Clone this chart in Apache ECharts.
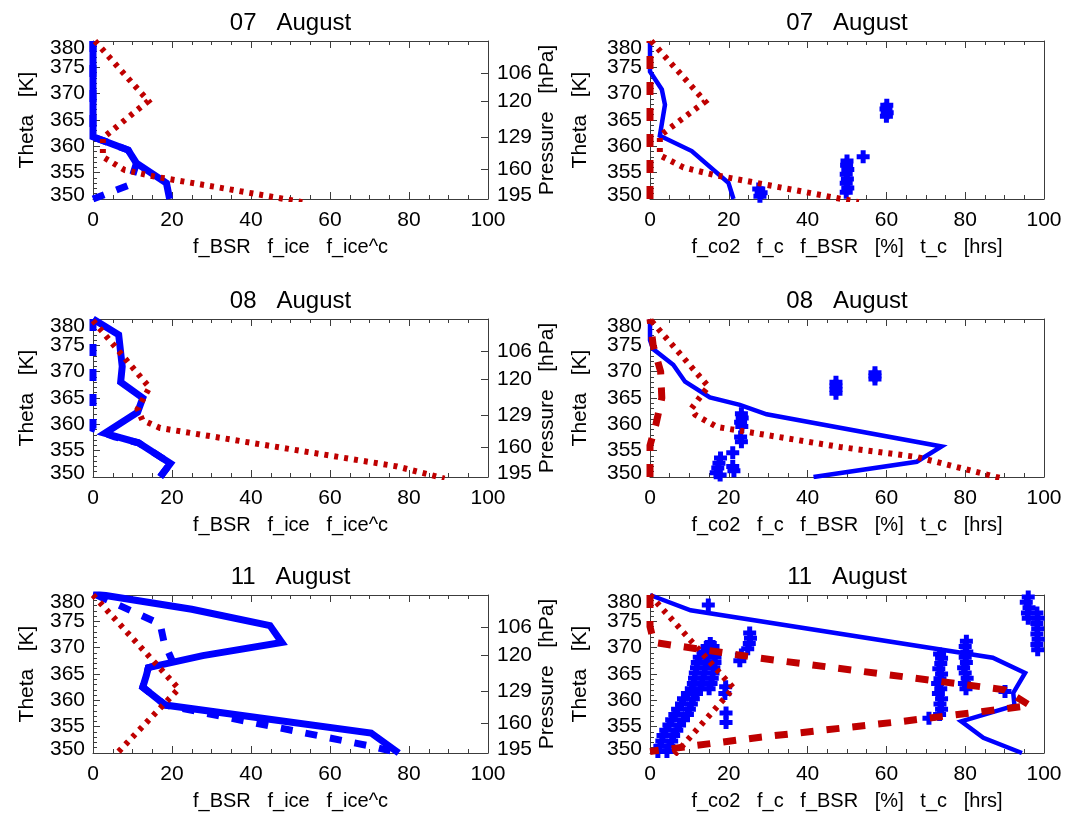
<!DOCTYPE html>
<html>
<head>
<meta charset="utf-8">
<script src="https://cdn.jsdelivr.net/npm/echarts@6/dist/echarts.min.js"></script>
<style>
  html, body { margin: 0; padding: 0; background: #fff; }
  #chart { width: 1065px; height: 814px; }
</style>
</head>
<body>
<div id="chart"></div>
<script>
// ---- axis definitions -------------------------------------------------
const thetaMin = 350, thetaMax = 380;            // potential temperature [K]
const pctMin = 0, pctMax = 100;                  // fractions [%] / hours
const thetaInnerLabels = [355, 360, 365, 370, 375];
const thetaEdgeLabels = [350, 380];
const pressureTickTheta = [355.6, 361.8, 368.5, 373.9];
const pressureLabelTheta = [350, 355.6, 361.8, 368.5, 373.9];
const pressureLabels = ['195', '160', '129', '120', '106'];
const dayTitles = ['07   August', '08   August', '11   August'];
const leftXTitle = 'f_BSR   f_ice   f_ice^c';
const rightXTitle = 'f_co2   f_c   f_BSR   [%]   t_c   [hrs]';
const thetaTitle = 'Theta   [K]';
const pressureTitle = 'Pressure   [hPa]';

// ---- 07 August: points are [value, theta] ------------------------------
const fBSR07 = [[0,380],[0,361.8],[8.9,359.3],[11,356.8],[18.6,353],[19.4,350]];
const fIce07 = [[0,350],[9.3,352.7],[11,356.8],[8.9,359.3],[0,361.8],[0,380]];
const fIceC07 = [[0.5,380],[14,368.6],[2.5,361.6],[2.5,358],[8,355.5],[16,354.2],[31,352.3],[53,349.4]];
const fC07 = [[0,380],[0,374.2],[3,370.8],[3.8,367.9],[2.5,362],[10.6,359.1],[19.9,353.1],[21.2,350]];
const fCO2_07 = [[0,350],[0,380]];
const fBSRr07 = [[0.3,380],[14,368.5],[2.5,362],[2.5,358.3],[8.5,356],[16,354.6],[31,352.5],[53,349.4]];
const tC07 = [
  [27.6,351.9],[28.2,351.2],[27.9,350.5],
  [49.8,351.3],[50.2,352.1],[49.8,353],[50.1,353.8],[49.8,354.7],[50.2,355.6],[49.9,356.4],[50,357.2],
  [54.1,358],
  [60,365.7],[60.2,366.4],[59.9,367.1],[60.1,367.8]
];

// ---- 08 August ---------------------------------------------------------
const fBSR08 = [[0,380],[6.5,377],[7.4,371],[7,368],[12.6,365],[11.3,362.3],[3,358.3],[11.5,356.5],[19.6,352.6],[17,350]];
const fIce08 = [[0,380],[0,359.2],[5.5,357.6],[11.5,356.5],[19.6,352.6],[17,350]];
const fIceC08 = [[0,379.7],[14.3,367],[11.3,362.9],[12.5,360.8],[17,359.3],[77,352],[89,349.7]];
const fC08 = [[0,380],[0,376],[0.8,374.3],[5.9,371.3],[8.9,368.1],[15.2,365.1],[22.8,363.7],[29.6,361.9],[74,355.8],[67.7,352.9],[41.5,350]];
const fCO2_08 = [[0,350],[0,356],[1.5,360],[3,365],[2.7,370],[0.8,375],[0,380]];
const fBSRr08 = [[0.4,379.6],[14.8,367.2],[10.5,363],[11.5,361.8],[17,359.5],[48.2,355.7],[67.7,353.8],[89,349.8]];
const tC08 = [
  [17.9,353.6],[17.5,352.6],[17.2,351.7],[16.8,350.8],[17.8,350.4],
  [21,354.6],[21,352],[21.3,351.2],
  [23.2,362],[23.4,361.2],[23,360.4],[23.3,359.6],[23,357.6],[23.2,356.7],
  [47.2,365.9],[47.2,366.6],[47.2,367.3],[47.2,368],
  [57.1,368.6],[57.1,369.2],[57.1,369.8]
];

// ---- 11 August ---------------------------------------------------------
const fBSR11 = [[0,380.3],[25,377.3],[44.8,374.2],[47.8,371],[27.8,368.5],[14,366.2],[13.5,364.7],[12.6,362.5],[18.3,359.1],[70.4,353.8],[77.4,350]];
const fIce11 = [[0.9,380],[17,374.5],[18,371],[20,367.6],[14,366.2],[13.5,364.7],[12.6,362.5],[18.3,359.1],[71,351.2],[77.4,350]];
const fIceC11 = [[0,380],[21.7,362.2],[5.5,349.5]];
const fC11 = [[0,380],[10.3,377.1],[87,368.1],[95.2,365.2],[92.2,361.4],[92.5,359],[79,356],[84.6,352.9],[94.4,350]];
const fCO2_11 = [[0,380],[0,374],[1,371],[28,368],[59,365],[90,362],[96.5,359],[64,356],[28,353],[0,350.3]];
const fBSRr11 = [[0,380],[21.2,362.3],[6,349.5]];
const tC11 = [
  [14.8,378.1],
  [25.3,372.8],[25.5,371.8],[25.2,370.8],[24.8,369.8],[23.2,368.6],[22.8,367.5],
  [15.3,370.8],[14.5,370.2],[16,370.2],[13.5,369.2],[15.5,369.2],
  [12.5,368.2],[14.5,368.2],[16.5,368.2],[12,367.2],[14.3,367.2],[16.5,367.2],
  [11.8,366.2],[14,366.2],[16.2,366.2],[11.5,365.2],[13.8,365.2],[16,365.2],
  [11.3,364.2],[13.5,364.2],[15.8,364.2],[11,363.2],[13.2,363.2],[15.5,363.2],
  [10.5,362.2],[12.8,362.2],[15,362.2],
  [19.2,362.6],[19,361.3],[19.3,357.6],[19.3,355.8],
  [9.5,361.3],[11.8,361.3],[8.5,360.3],[11,360.3],[8,359.3],[10.5,359.3],[7,358.3],[10,358.3],
  [6.3,357.3],[9.5,357.3],[5.5,356.3],[8.5,356.3],[4.8,355.3],[7.5,355.3],[4,354.3],[6.8,354.3],
  [3.3,353.3],[6,353.3],[3,352.3],[5.5,352.3],[2.5,351.3],[4.8,351.3],[2,350.3],[4.3,350.3],
  [14.8,349.6],
  [70.8,356.6],[73.5,357.3],[74,358.3],[73.6,359.3],[74,360.3],[73.2,361.3],[73.8,362.2],[73,363.2],
  [73.6,364.1],[74,365],[73.3,366],[73.8,367],[74,368],[73.5,368.8],
  [80.2,362.2],[79.8,363.2],[80.5,364.2],[80,365.2],[79.6,366.2],[80.3,367.2],[80,368.2],[80.4,369.2],
  [80,370.2],[80.3,371.2],
  [90.1,361.7],
  [96,379.6],[95.5,378.6],[96.2,377.6],[95.8,376.6],[96,375.6],
  [98.2,376.6],[98.5,375.6],[98.2,374.6],[98.4,373.6],[98.2,372.6],[98.5,371.6],[98.2,370.6],[98.4,369.6]
];

// ---- styling ------------------------------------------------------------
const BLUE = '#0000ff', RED = '#bf0000', AXIS = '#3c3c3c', INK = '#000';
const FONT = "'Liberation Sans', Arial, Helvetica, sans-serif";
const lineStyles = {
  thick:     { color: BLUE, width: 7,   type: 'solid' },
  thickDash: { color: BLUE, width: 7,   type: [12, 13] },
  thin:      { color: BLUE, width: 4.5, type: 'solid' },
  redDash:   { color: RED,  width: 7,   type: [13, 13] },
  dot:       { color: RED,  width: 6,   type: [4, 6] }
};
const crossSymbol = 'path://M4,0H9V4H13V9H9V13H4V9H0V4H4Z';

const panels = [
  { row: 0, side: 'left',  title: dayTitles[0], layers: [[fBSR07, 'thick'], [fIce07, 'thickDash'], [fIceC07, 'dot']] },
  { row: 0, side: 'right', title: dayTitles[0], crosses: tC07, layers: [[fC07, 'thin'], [fCO2_07, 'redDash'], [fBSRr07, 'dot']] },
  { row: 1, side: 'left',  title: dayTitles[1], layers: [[fBSR08, 'thick'], [fIce08, 'thickDash'], [fIceC08, 'dot']] },
  { row: 1, side: 'right', title: dayTitles[1], crosses: tC08, layers: [[fC08, 'thin'], [fCO2_08, 'redDash'], [fBSRr08, 'dot']] },
  { row: 2, side: 'left',  title: dayTitles[2], layers: [[fBSR11, 'thick'], [fIce11, 'thickDash'], [fIceC11, 'dot']] },
  { row: 2, side: 'right', title: dayTitles[2], crosses: tC11, layers: [[fC11, 'thin'], [fCO2_11, 'redDash'], [fBSRr11, 'dot']] }
];

const rowTop = [41, 319, 595];
const plotH = 158;
const colLeft = { left: 93, right: 650 };
const colWidth = { left: 395, right: 394 };

const axisLineOpt = { show: true, onZero: false, lineStyle: { color: AXIS, width: 1 } };
const tickOpt = { show: true, inside: true, length: 7, lineStyle: { color: AXIS, width: 1 } };
const labelFont = { fontFamily: FONT, fontSize: 21, color: INK };
const yLabelFont = Object.assign({ lineHeight: 14 }, labelFont);
const nameFont = { fontFamily: FONT, fontSize: 20, color: INK };
const yNameFont = { fontFamily: FONT, fontSize: 21, color: INK };

// end labels of vertical axes sit slightly inside the frame
const edgeRich = {
  hi: Object.assign({}, yLabelFont, { padding: [14, 0, 0, 0] }),
  lo: Object.assign({}, yLabelFont, { padding: [0, 0, 8, 0] })
};
const edgeFormat = v => v >= thetaMax ? '{hi|' + v + '}' : '{lo|' + v + '}';

const grids = [], xAxes = [], yAxes = [], series = [];

panels.forEach((p, i) => {
  grids.push({
    left: colLeft[p.side], top: rowTop[p.row],
    width: colWidth[p.side], height: plotH,
    containLabel: false, outerBoundsMode: 'none'
  });

  const xCommon = {
    gridIndex: i, type: 'value', min: pctMin, max: pctMax, interval: 20,
    axisLine: axisLineOpt, axisTick: tickOpt,
    minorTick: { show: true, splitNumber: 4, length: 4, lineStyle: { color: AXIS, width: 1 } },
    splitLine: { show: false }, minorSplitLine: { show: false }
  };
  const xi = xAxes.length;
  xAxes.push(Object.assign({}, xCommon, {
    position: 'bottom',
    name: p.side === 'left' ? leftXTitle : rightXTitle,
    nameLocation: 'middle', nameGap: 38, nameTextStyle: nameFont,
    axisLabel: Object.assign({ margin: 11, showMinLabel: true, showMaxLabel: true }, labelFont)
  }));
  xAxes.push(Object.assign({}, xCommon, {
    position: 'top',
    name: p.title, nameLocation: 'middle', nameGap: 6,
    nameTextStyle: { fontFamily: FONT, fontSize: 24, color: INK },
    axisLabel: { show: false }
  }));

  // theta axis: frame, ticks and inner labels
  const yi = yAxes.length;
  yAxes.push({
    gridIndex: i, type: 'value', position: 'left',
    min: thetaMin, max: thetaMax, interval: 5,
    name: thetaTitle, nameLocation: 'middle',
    nameGap: p.side === 'left' ? 55 : 59, nameTextStyle: yNameFont,
    axisLine: axisLineOpt, axisTick: tickOpt,
    minorTick: { show: true, splitNumber: 5, length: 4, lineStyle: { color: AXIS, width: 1 } },
    splitLine: { show: false }, minorSplitLine: { show: false },
    axisLabel: Object.assign({ margin: 8, customValues: thetaInnerLabels }, yLabelFont)
  });
  // theta axis: end labels
  yAxes.push({
    gridIndex: i, type: 'value', position: 'left',
    min: thetaMin, max: thetaMax,
    axisLine: { show: false }, axisTick: { show: false }, splitLine: { show: false },
    axisLabel: Object.assign({ margin: 8, customValues: thetaEdgeLabels, formatter: edgeFormat, rich: edgeRich }, yLabelFont)
  });

  if (p.side === 'left') {
    yAxes.push({
      gridIndex: i, type: 'value', position: 'right',
      min: thetaMin, max: thetaMax,
      name: pressureTitle, nameLocation: 'middle', nameGap: 49, nameTextStyle: yNameFont,
      axisLine: axisLineOpt,
      axisTick: Object.assign({}, tickOpt, { customValues: pressureTickTheta }),
      splitLine: { show: false },
      axisLabel: Object.assign({
        margin: 9,
        customValues: pressureLabelTheta,
        formatter: v => {
          let k = 0;
          pressureLabelTheta.forEach((t, j) => { if (Math.abs(t - v) < Math.abs(pressureLabelTheta[k] - v)) k = j; });
          return k === 0 ? '{lo|' + pressureLabels[k] + '}' : pressureLabels[k];
        },
        rich: edgeRich
      }, yLabelFont)
    });
  } else {
    yAxes.push({
      gridIndex: i, type: 'value', position: 'right',
      min: thetaMin, max: thetaMax,
      axisLine: axisLineOpt, axisTick: { show: false },
      axisLabel: { show: false }, splitLine: { show: false }
    });
  }

  if (p.crosses) {
    series.push({
      type: 'scatter', xAxisIndex: xi, yAxisIndex: yi, data: p.crosses,
      symbol: crossSymbol, symbolSize: 13, itemStyle: { color: BLUE, opacity: 1 },
      clip: true, silent: true, z: 2
    });
  }
  p.layers.forEach(([data, key], k) => {
    series.push({
      type: 'line', xAxisIndex: xi, yAxisIndex: yi, data,
      symbol: 'none', showSymbol: false, smooth: false, clip: true, silent: true,
      lineStyle: Object.assign({ cap: 'butt', join: 'miter' }, lineStyles[key]),
      z: 3 + k
    });
  });
});

const chart = echarts.init(document.getElementById('chart'), null, { renderer: 'canvas' });
chart.setOption({
  animation: false,
  backgroundColor: '#ffffff',
  grid: grids,
  xAxis: xAxes,
  yAxis: yAxes,
  series
});
</script>
</body>
</html>
